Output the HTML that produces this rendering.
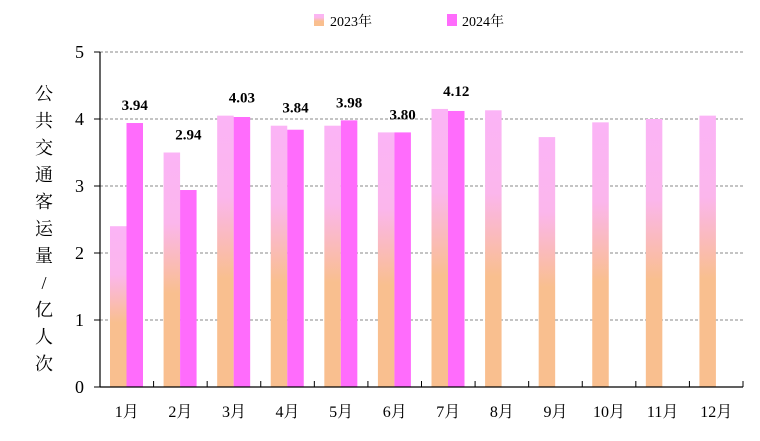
<!DOCTYPE html>
<html><head><meta charset="utf-8"><style>
body{margin:0;background:#fff}
svg{display:block;font-family:"Liberation Serif","Noto Serif CJK SC",serif}
</style></head><body>
<svg id="chart" width="760" height="441" viewBox="0 0 760 441" xmlns="http://www.w3.org/2000/svg">
<defs>
<linearGradient id="g23" x1="0" y1="0" x2="0" y2="1">
<stop offset="0" stop-color="#fbb4f6"/><stop offset="0.3" stop-color="#fbb6ec"/><stop offset="0.6" stop-color="#f9bf8f"/><stop offset="1" stop-color="#f9bf8f"/>
</linearGradient>
</defs>
<g>
<rect x="314" y="14" width="10" height="12" fill="url(#g23)"/>
<text x="330" y="26" font-size="14">2023年</text>
<rect x="447" y="14" width="10" height="12" fill="#ff6cfc"/>
<text x="462" y="26" font-size="14">2024年</text>
</g>
<g font-size="18" text-anchor="middle">
<text x="44" y="100">公</text><text x="44" y="127">共</text><text x="44" y="154">交</text><text x="44" y="181">通</text><text x="44" y="208">客</text><text x="44" y="235">运</text><text x="44" y="262">量</text><text x="44" y="289">/</text><text x="44" y="316">亿</text><text x="44" y="343">人</text><text x="44" y="370">次</text>
</g>
<g id="grid"></g>
<g id="bars"></g>
<g id="axes"></g>
</svg>
<script>
const categories=["1月","2月","3月","4月","5月","6月","7月","8月","9月","10月","11月","12月"];
const values2023=[2.4,3.5,4.05,3.9,3.9,3.8,4.15,4.13,3.73,3.95,4.0,4.05];
const values2024=[3.94,2.94,4.03,3.84,3.98,3.80,4.12];
const labels2024=["3.94","2.94","4.03","3.84","3.98","3.80","4.12"];
const yTicks=[0,1,2,3,4,5];
const NS="http://www.w3.org/2000/svg";
const L=100,R=743,T=52,B=387,YMAX=5;
const y=v=>B-(v/YMAX)*(B-T);
const cw=(R-L)/categories.length;
const x=i=>L+i*cw;
function mk(tag,attrs,parent){const e=document.createElementNS(NS,tag);for(const k in attrs)e.setAttribute(k,attrs[k]);parent.appendChild(e);return e;}
const grid=document.getElementById('grid'),bars=document.getElementById('bars'),axes=document.getElementById('axes');
yTicks.forEach(t=>{
  if(t>0){const g=mk('line',{x1:L,x2:R,y1:y(t),y2:y(t),stroke:'#888','stroke-dasharray':'3,2','stroke-width':1},grid);
  
  }
  const tk=mk('line',{x1:L-6,x2:L,y1:y(t),y2:y(t),stroke:'#000'},axes);
  
  
  const lb=mk('text',{x:L-16,y:y(t)+6,'font-size':18,'text-anchor':'end'},axes);lb.textContent=t;
  
  
});
const bw=16.5;
values2023.forEach((v,i)=>{
  const r=mk('rect',{x:x(i)+10,y:y(v),width:bw,height:B-y(v),fill:'url(#g23)'},bars);
  
  
});
values2024.forEach((v,i)=>{
  const r=mk('rect',{x:x(i)+10+bw,y:y(v),width:bw,height:B-y(v),fill:'#ff6cfc'},bars);
  
  
  const t=mk('text',{x:x(i)+10+bw*1.5,y:y(Math.max(v,values2023[i]))-13,'font-size':15,'font-weight':'bold','text-anchor':'middle'},bars);
  t.textContent=labels2024[i];
  
  
});
mk('line',{x1:L,x2:L,y1:T,y2:B,stroke:'#000','stroke-width':1.2},axes);
mk('line',{x1:L,x2:R,y1:B,y2:B,stroke:'#000','stroke-width':1.2},axes);
categories.forEach((c,i)=>{
  const tk=mk('line',{x1:x(i+1),x2:x(i+1),y1:B-6,y2:B,stroke:'#000'},axes);
  
  
  const t=mk('text',{x:x(i)+cw/2,y:417,'font-size':16,'text-anchor':'middle'},axes);t.textContent=c;
  
  
});
</script>
</body></html>
